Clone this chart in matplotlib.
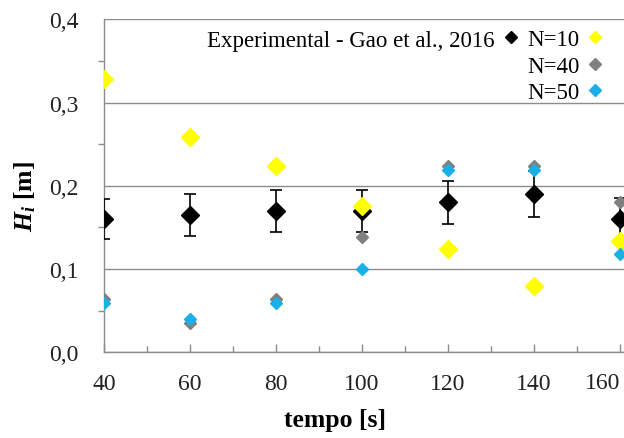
import matplotlib
matplotlib.use("Agg")
import matplotlib.pyplot as plt
from matplotlib.lines import Line2D
from matplotlib.ticker import FuncFormatter, MultipleLocator

plt.rcParams['font.family'] = ['Liberation Serif', 'DejaVu Serif']
plt.rcParams['mathtext.fontset'] = 'custom'
plt.rcParams['mathtext.rm'] = 'Liberation Serif:bold'
plt.rcParams['mathtext.it'] = 'Liberation Serif:italic:bold'
plt.rcParams['mathtext.bf'] = 'Liberation Serif:bold'

tempo = [40, 60, 80, 100, 120, 140, 160]
exp_h = [0.160, 0.165, 0.170, 0.170, 0.180, 0.190, 0.160]
exp_err = [0.024, 0.025, 0.025, 0.025, 0.026, 0.028, 0.025]
n10 = [0.328, 0.259, 0.224, 0.176, 0.124, 0.080, 0.134]
n40 = [0.064, 0.035, 0.064, 0.139, 0.224, 0.224, 0.180]
n50 = [0.059, 0.040, 0.059, 0.100, 0.219, 0.219, 0.118]

labels = ["Experimental - Gao et al., 2016", "N=10", "N=40", "N=50"]
colors = ["#000000", "#FFFF00", "#808080", "#1AAFE6"]
sizes = [9.0, 9.0, 6.5, 6.5]
leg_sizes = [6.6, 6.6, 6.2, 6.2]

fig = plt.figure(figsize=(6.24, 4.39), dpi=100)
ax = fig.add_axes([104/624, 85.7/439, 520/624, 333/439])

ax.errorbar(tempo, exp_h, yerr=exp_err, fmt='D', color=colors[0], ms=sizes[0],
            ecolor='black', elinewidth=1.2, capsize=4, capthick=1.2, zorder=3)
ax.plot(tempo, n10, 'D', color=colors[1], ms=sizes[1], linestyle='none', zorder=4)
ax.plot(tempo, n40, 'D', color=colors[2], ms=sizes[2], linestyle='none', zorder=5)
ax.plot(tempo, n50, 'D', color=colors[3], ms=sizes[3], linestyle='none', zorder=6)

ax.set_xlim(40, 160.93)
ax.set_ylim(0, 0.4)
ax.xaxis.set_major_locator(MultipleLocator(20))
ax.xaxis.set_minor_locator(MultipleLocator(10))
ax.yaxis.set_major_locator(MultipleLocator(0.1))
ax.yaxis.set_minor_locator(MultipleLocator(0.05))
ax.yaxis.set_major_formatter(FuncFormatter(lambda v, p: f"{v:.1f}".replace('.', ',')))
last_x = tempo[-1]
ax.xaxis.set_major_formatter(FuncFormatter(lambda v, p: "" if abs(v - last_x) < 1e-6 else f"{v:.0f}"))

ax.grid(axis='y', which='major', color='#8c8c8c', linewidth=1.0, zorder=0)
for s in ['top', 'right']:
    ax.spines[s].set_visible(False)
for s in ['left', 'bottom']:
    ax.spines[s].set_color('#8c8c8c')
    ax.spines[s].set_linewidth(1.0)

ax.tick_params(axis='x', which='major', direction='in', length=6, width=1, color='#8c8c8c',
               pad=15, labelsize=17, labelcolor='#222222')
ax.tick_params(axis='x', which='minor', direction='in', length=4.5, width=1, color='#8c8c8c')
ax.tick_params(axis='y', which='major', length=0, pad=18, labelsize=17, labelcolor='#222222')
ax.tick_params(axis='y', which='minor', direction='out', length=4.5, width=1, color='#8c8c8c')

# last x tick label, shifted left so it stays inside the (clipped) chart area
ax.text(last_x, -0.09, f"{last_x}", transform=ax.get_xaxis_transform(), ha='right',
        va='center', fontsize=17, color='#222222', clip_on=False)

ax.set_xlabel("tempo [s]", fontsize=18.5, fontweight='bold')
ax.xaxis.set_label_coords(0.444, -0.168)
ax.set_ylabel(r"$H_i$ [m]", fontsize=18.5, fontweight='bold')
ax.yaxis.set_label_coords(-0.127, 0.472)

proxies = [Line2D([], [], linestyle='none', marker='D', color=c, ms=s)
           for c, s in zip(colors, leg_sizes)]
blank = Line2D([], [], linestyle='none', marker=None)
order_h = [proxies[0], blank, blank, proxies[1], proxies[2], proxies[3]]
order_l = [labels[0], '', '', labels[1], labels[2], labels[3]]
leg = ax.legend(order_h, order_l, ncol=2, markerfirst=False, frameon=False,
                fontsize=16.5, loc='upper right', bbox_to_anchor=(616/624, 1 - 19/439),
                bbox_transform=fig.transFigure, handlelength=0.8, handletextpad=0.3,
                columnspacing=0.3, labelspacing=0.22, borderpad=0)

fig.savefig("out.png", dpi=100)
